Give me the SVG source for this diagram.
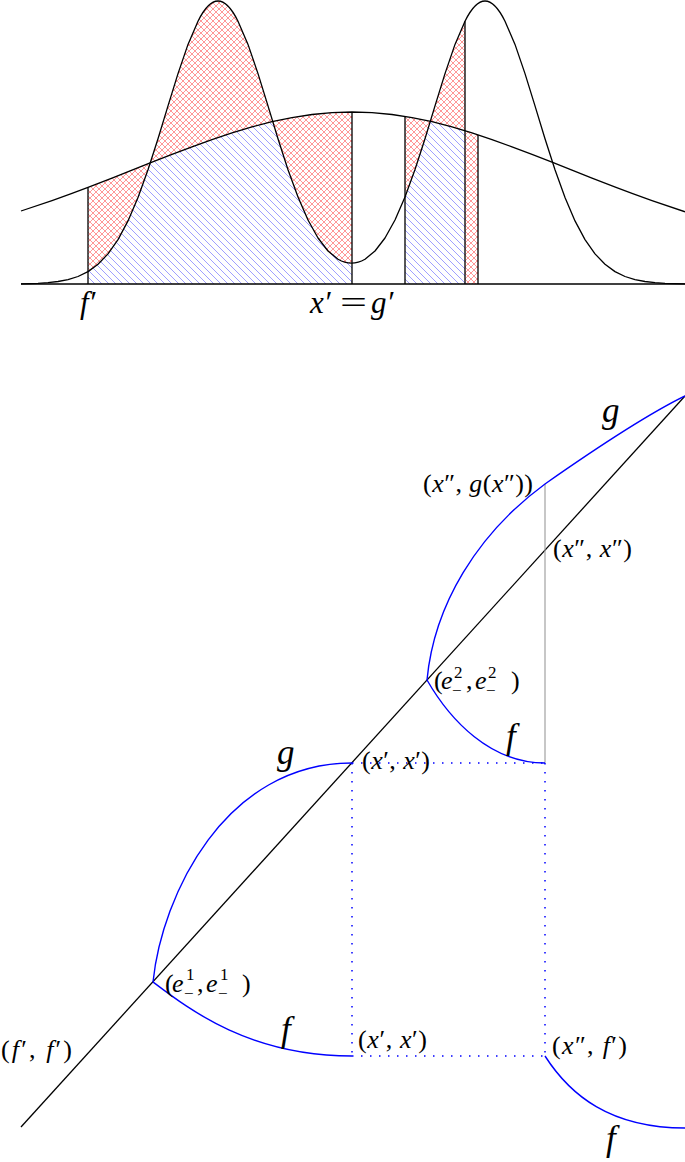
<svg xmlns="http://www.w3.org/2000/svg" width="685" height="1162" viewBox="0 0 685 1162">
<style>
.ax{fill:none;stroke:#000;stroke-width:1.3;stroke-linejoin:round}
.bl{fill:none;stroke:#0000ff;stroke-width:1.4}
.dot{fill:none;stroke:#0000ff;stroke-width:1.5;stroke-dasharray:1.5 7.5}
.gr{fill:none;stroke:#999;stroke-width:1.1}
text{font-family:"Liberation Serif","Times New Roman",serif;fill:#000}
.lb{font-size:26px}
.big{font-size:35px;font-style:italic}
.top{font-size:31px}
.sc{font-size:17px}
.i{font-style:italic}
</style>
<defs>
<pattern id="red" width="6" height="6" patternUnits="userSpaceOnUse"><path d="M0,0L6,6M6,0L0,6" stroke="#ff5050" stroke-width="0.6" fill="none"/></pattern>
<pattern id="blue" width="7" height="7" patternUnits="userSpaceOnUse"><path d="M0,0L7,7M-1,6L1,8M6,-1L8,1" stroke="#6060ff" stroke-width="0.6" fill="none"/></pattern>
<path id="areaW" d="M21,284 L21,211 52,200.6 72,193.4 88,187.4 112,178.1 132,170.2 152,162.2 172,154.4 192,146.8 212,139.6 232,132.9 252,126.9 272,121.7 292,117.6 312,114.5 332,112.6 352,112 372,112.6 392,114.5 412,117.6 432,121.7 452,126.9 472,132.9 492,139.6 512,146.8 532,154.4 552,162.2 572,170.2 592,178.1 616,187.4 632,193.4 652,200.6 685,211.8 L685,284 Z"/>
<path id="areaN" d="M21,284 L21,283.8 38,283.3 48,282.7 58,281.5 68,279.6 78,276.5 88,271.6 98,264.3 108,253.9 118,239.6 128,220.9 138,197.5 148,169.8 158,138.7 168,105.9 178,73.6 188,44.4 198,21.2 Q218,-19.2 238,21.2 L248,44.4 258,73.6 268,105.9 278,138.7 288,169.8 298,197 308,220 318,238 328,251 338,259.2 Q351.5,267 365,259.2 L375,251 385,238 395,220 405,197 415,169.5 425,138.7 435,105.9 445,73.6 455,44.4 465,21.2 Q485,-19.2 505,21.2 L515,44.4 525,73.6 535,105.9 545,138.7 555,169.8 565,197.5 575,220.9 585,239.6 595,253.9 605,264.3 615,271.6 625,276.5 635,279.6 645,281.5 655,282.7 665,283.3 685,283.8 L685,284 Z"/>
<clipPath id="cW"><use href="#areaW"/></clipPath>
<clipPath id="r1"><rect x="88" y="0" width="264" height="284"/></clipPath>
<clipPath id="r2"><rect x="405" y="0" width="60" height="284"/></clipPath>
<clipPath id="r3"><rect x="465" y="0" width="13" height="284"/></clipPath>
</defs>

<g id="top-plot">
 <g id="hatch-1" clip-path="url(#r1)">
  <use href="#areaW" fill="url(#red)"/>
  <use href="#areaN" fill="url(#red)"/>
  <g clip-path="url(#cW)"><use href="#areaN" fill="#fff"/><use href="#areaN" fill="url(#blue)"/></g>
 </g>
 <g id="hatch-2" clip-path="url(#r2)">
  <use href="#areaW" fill="url(#red)"/>
  <use href="#areaN" fill="url(#red)"/>
  <g clip-path="url(#cW)"><use href="#areaN" fill="#fff"/><use href="#areaN" fill="url(#blue)"/></g>
 </g>
 <g id="hatch-3" clip-path="url(#r3)">
  <use href="#areaW" fill="url(#red)"/>
 </g>
 <path id="curve-wide" class="ax" d="M21,211 L52,200.6 72,193.4 88,187.4 112,178.1 132,170.2 152,162.2 172,154.4 192,146.8 212,139.6 232,132.9 252,126.9 272,121.7 292,117.6 312,114.5 332,112.6 352,112 372,112.6 392,114.5 412,117.6 432,121.7 452,126.9 472,132.9 492,139.6 512,146.8 532,154.4 552,162.2 572,170.2 592,178.1 616,187.4 632,193.4 652,200.6 685,211.8"/>
 <path id="curve-narrow" class="ax" d="M21,283.8 L38,283.3 48,282.7 58,281.5 68,279.6 78,276.5 88,271.6 98,264.3 108,253.9 118,239.6 128,220.9 138,197.5 148,169.8 158,138.7 168,105.9 178,73.6 188,44.4 198,21.2 Q218,-19.2 238,21.2 L248,44.4 258,73.6 268,105.9 278,138.7 288,169.8 298,197 308,220 318,238 328,251 338,259.2 Q351.5,267 365,259.2 L375,251 385,238 395,220 405,197 415,169.5 425,138.7 435,105.9 445,73.6 455,44.4 465,21.2 Q485,-19.2 505,21.2 L515,44.4 525,73.6 535,105.9 545,138.7 555,169.8 565,197.5 575,220.9 585,239.6 595,253.9 605,264.3 615,271.6 625,276.5 635,279.6 645,281.5 655,282.7 665,283.3 685,283.8"/>
 <path id="verticals" class="ax" d="M88,284V187.4M352,284V112M405,284V116.5M465,284V21.2M478,284V134.9"/>
 <path id="baseline" class="ax" d="M21,284H685"/>
 <text class="top i" x="80" y="313">f′</text>
 <text class="top i" x="310" y="313">x′</text>
 <text class="top" x="340" y="313" textLength="27" lengthAdjust="spacingAndGlyphs">=</text>
 <text class="top i" x="371" y="313">g′</text>
</g>

<g id="bottom-plot">
 <path id="diagonal" class="ax" d="M21,1127L685,396"/>
 <path id="gray-line" class="gr" d="M545,484V763"/>
 <g id="connectors">
  <path class="dot" d="M352,763H545M352,1056H545M352,763V1056M545,763V1056"/>
 </g>
 <path id="g-lower" class="bl" d="M153,982 C162,895 225,763 352,763"/>
 <path id="f-lower" class="bl" d="M153,982 C190,1010 250,1056 352,1056"/>
 <path id="g-upper" class="bl" d="M427,680 C434,605 477,534 545,484 C585,456 640,418 685,396"/>
 <path id="f-upper" class="bl" d="M427,680 C450,720 490,763 545,763"/>
 <path id="f-right" class="bl" d="M545,1056 C570,1095 610,1128 685,1128"/>

 <text class="big" x="277" y="764">g</text>
 <text class="big" x="281" y="1041">f</text>
 <text class="big" x="602" y="422">g</text>
 <text class="big" x="506" y="748">f</text>
 <text class="big" x="606" y="1150">f</text>

 <text class="lb" x="423" y="492" textLength="110" lengthAdjust="spacing">(<tspan class="i">x</tspan>″, <tspan class="i">g</tspan>(<tspan class="i">x</tspan>″))</text>
 <text class="lb" x="553" y="557" textLength="79" lengthAdjust="spacing">(<tspan class="i">x</tspan>″, <tspan class="i">x</tspan>″)</text>
 <text class="lb" x="362" y="769" textLength="68" lengthAdjust="spacing">(<tspan class="i">x</tspan>′, <tspan class="i">x</tspan>′)</text>
 <text class="lb" x="358" y="1048" textLength="69" lengthAdjust="spacing">(<tspan class="i">x</tspan>′, <tspan class="i">x</tspan>′)</text>
 <text class="lb" x="1" y="1058" textLength="71" lengthAdjust="spacing">(<tspan class="i">f</tspan>′, <tspan class="i">f</tspan>′)</text>
 <text class="lb" x="552" y="1054" textLength="75" lengthAdjust="spacing">(<tspan class="i">x</tspan>″, <tspan class="i">f</tspan>′)</text>

 <g id="label-e2">
  <text class="lb"><tspan x="434" y="689">(</tspan><tspan class="i" x="441" y="689">e</tspan><tspan x="466" y="689">,</tspan><tspan class="i" x="475" y="689">e</tspan><tspan x="511" y="689">)</tspan></text>
  <text class="sc"><tspan x="454" y="678">2</tspan><tspan x="452" y="696">−</tspan><tspan x="488" y="678">2</tspan><tspan x="486" y="696">−</tspan></text>
 </g>
 <g id="label-e1">
  <text class="lb"><tspan x="165" y="992">(</tspan><tspan class="i" x="172" y="992">e</tspan><tspan x="197" y="992">,</tspan><tspan class="i" x="206" y="992">e</tspan><tspan x="242" y="992">)</tspan></text>
  <text class="sc"><tspan x="186" y="980">1</tspan><tspan x="184" y="999">−</tspan><tspan x="220" y="980">1</tspan><tspan x="218" y="999">−</tspan></text>
 </g>
</g>
</svg>
